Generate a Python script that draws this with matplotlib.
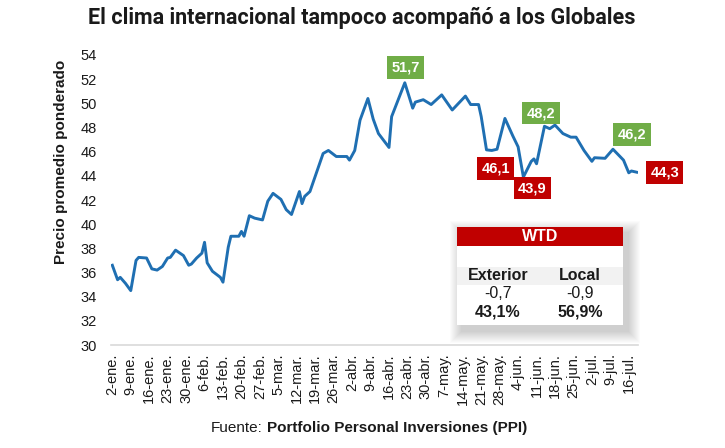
import matplotlib
matplotlib.use('Agg')
import matplotlib.pyplot as plt
from matplotlib.patches import Rectangle
import pandas as pd

plt.rcParams['font.family'] = ['Liberation Sans', 'DejaVu Sans']

# precio promedio ponderado de los Globales (2024)
fechas = ['2024-01-02', '2024-01-04', '2024-01-05', '2024-01-07', '2024-01-09', '2024-01-11',
          '2024-01-12', '2024-01-15', '2024-01-17', '2024-01-19', '2024-01-21', '2024-01-23',
          '2024-01-24', '2024-01-26', '2024-01-29', '2024-01-31', '2024-02-01', '2024-02-03',
          '2024-02-05', '2024-02-06', '2024-02-07', '2024-02-09', '2024-02-12', '2024-02-13',
          '2024-02-15', '2024-02-16', '2024-02-19', '2024-02-20', '2024-02-21', '2024-02-23',
          '2024-02-25', '2024-02-28', '2024-03-01', '2024-03-03', '2024-03-06', '2024-03-08',
          '2024-03-10', '2024-03-13', '2024-03-14', '2024-03-15', '2024-03-17', '2024-03-22',
          '2024-03-24', '2024-03-27', '2024-03-31', '2024-04-01', '2024-04-03', '2024-04-05',
          '2024-04-08', '2024-04-10', '2024-04-12', '2024-04-16', '2024-04-17', '2024-04-22',
          '2024-04-25', '2024-04-26', '2024-04-29', '2024-05-02', '2024-05-06', '2024-05-10',
          '2024-05-15', '2024-05-17', '2024-05-20', '2024-05-21', '2024-05-23', '2024-05-25',
          '2024-05-27', '2024-05-30', '2024-06-02', '2024-06-04', '2024-06-06', '2024-06-09',
          '2024-06-10', '2024-06-11', '2024-06-14', '2024-06-16', '2024-06-18', '2024-06-21',
          '2024-06-24', '2024-06-26', '2024-06-29', '2024-07-02', '2024-07-03', '2024-07-07',
          '2024-07-10', '2024-07-14', '2024-07-16', '2024-07-17', '2024-07-19']
precio = [36.6, 35.4, 35.6, 35.1, 34.5, 37.0,
          37.25, 37.2, 36.3, 36.2, 36.5, 37.2,
          37.25, 37.85, 37.4, 36.6, 36.7, 37.2,
          37.6, 38.5, 36.8, 36.1, 35.6, 35.2,
          38.1, 39.0, 39.0, 39.4, 39.0, 40.7,
          40.5, 40.35, 41.9, 42.55, 42.05, 41.2,
          40.8, 42.7, 41.7, 42.3, 42.7, 45.85,
          46.1, 45.6, 45.6, 45.3, 46.1, 48.6,
          50.4, 48.7, 47.5, 46.35, 48.9, 51.7,
          49.6, 50.1, 50.3, 49.9, 50.7, 49.45,
          50.6, 49.9, 49.9, 48.9, 46.15, 46.1,
          46.2, 48.75, 47.3, 46.4, 43.9, 45.2,
          45.4, 45.0, 48.1, 47.9, 48.2, 47.5,
          47.2, 47.2, 46.1, 45.2, 45.5, 45.45,
          46.2, 45.3, 44.25, 44.4, 44.3]

# puntos destacados
destacados = ['2024-04-22', '2024-05-25', '2024-06-06', '2024-06-18', '2024-07-10', '2024-07-19']
tipo_destacado = ['max', 'min', 'min', 'max', 'max', 'min']
desplazamiento = [(1, 15), (4, -18), (9, -11), (-14, 12), (19, 15), (28, 0)]

meses = ['ene', 'feb', 'mar', 'abr', 'may', 'jun', 'jul']

wtd_columnas = ['Exterior', 'Local']
wtd_variacion = ['-0,7', '-0,9']
wtd_peso = ['43,1%', '56,9%']

azul = '#1f6fb2'
verde = '#70ad47'
rojo = '#c00000'
texto = '#1a1a1a'

W, H = 725, 448
fig = plt.figure(figsize=(W / 100, H / 100), dpi=100)
ax = fig.add_axes([111 / W, 1 - 345 / H, (638 - 111) / W, (345 - 55) / H])

x = pd.to_datetime(fechas)
ax.plot(x, precio, color=azul, lw=2.1, solid_joinstyle='round')

ax.set_ylim(30, 54)
ax.set_yticks(range(30, 55, 2))
ax.set_xlim(pd.Timestamp('2024-01-01 12:00'), pd.Timestamp('2024-07-19 12:00'))
ticks = pd.date_range('2024-01-02', '2024-07-16', freq='7D')
ax.set_xticks(ticks)
ax.set_xticklabels([f"{d.day}-{meses[d.month - 1]}." for d in ticks], rotation=90)
ax.tick_params(axis='both', length=0, labelsize=10.5, colors=texto)
ax.tick_params(axis='x', pad=6)
ax.tick_params(axis='y', pad=10)
for s in ['top', 'right', 'left']:
    ax.spines[s].set_visible(False)
ax.spines['bottom'].set_color('#d9d9d9')
ax.spines['bottom'].set_linewidth(1.2)

for f, t, d in zip(destacados, tipo_destacado, desplazamiento):
    i = fechas.index(f)
    v = precio[i]
    ax.annotate(f"{v:.1f}".replace('.', ','), xy=(x[i], v), xytext=d,
                textcoords='offset pixels', ha='center', va='center',
                color='white', fontweight='bold', fontsize=10.5,
                bbox=dict(boxstyle='square,pad=0.3', fc=verde if t == 'max' else rojo, ec='none'),
                annotation_clip=False, zorder=5)

fig.text(362 / W, 1 - 18 / H, 'El clima internacional tampoco acompañó a los Globales',
         ha='center', va='center', fontsize=15.5, fontweight='bold', color=texto,
         family=['Roboto', 'DejaVu Sans'])
fig.text(61 / W, 1 - 162 / H, 'Precio promedio ponderado', rotation=90,
         ha='center', va='center', fontsize=11, fontweight='bold', color=texto)
fig.text(263 / W, 1 - 428 / H, 'Fuente:', ha='right', va='center', fontsize=11, color=texto)
fig.text(267 / W, 1 - 428 / H, 'Portfolio Personal Inversiones (PPI)', ha='left',
         va='center', fontsize=11, fontweight='bold', color=texto)

# recuadro WTD
tab = fig.add_axes([0, 0, 1, 1], zorder=10)
tab.set_xlim(0, W)
tab.set_ylim(H, 0)
tab.axis('off')
tx, ty, tw, th = 457, 227, 166, 98
for k in range(1, 13):
    tab.add_patch(Rectangle((tx + 5 - k, ty + 6 - k), tw + 2 * k, th + 2 * k,
                            fc='black', ec='none', alpha=0.016))
tab.add_patch(Rectangle((tx, ty), tw, th, fc='white', ec='none'))
tab.add_patch(Rectangle((tx, ty), tw, 19, fc=rojo, ec='none'))
tab.add_patch(Rectangle((tx, 267), tw, 18, fc='#f2f2f2', ec='none'))
tab.text(tx + tw / 2, 236.5, 'WTD', ha='center', va='center', color='white',
         fontsize=11.5, fontweight='bold')
for cx, c, v, p in zip([498, 580], wtd_columnas, wtd_variacion, wtd_peso):
    tab.text(cx, 276, c, ha='center', va='center', fontsize=11.5, fontweight='bold', color=texto)
    tab.text(cx, 294, v, ha='center', va='center', fontsize=11.5, color=texto)
    tab.text(cx, 312, p, ha='center', va='center', fontsize=11.5, fontweight='bold', color=texto)

fig.savefig('out.png', dpi=100)
